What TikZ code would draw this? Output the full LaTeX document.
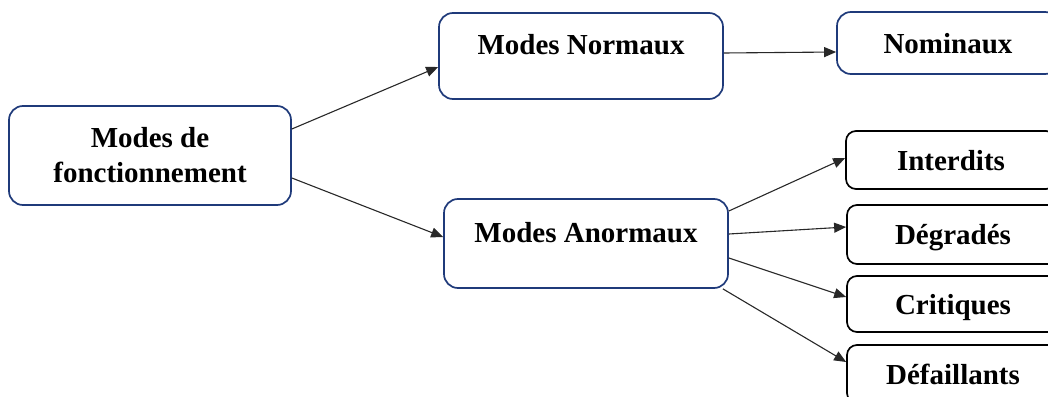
\documentclass[tikz,border=0pt]{standalone}
\usepackage{fontspec}
\setmainfont{Liberation Serif}
\usetikzlibrary{arrows.meta}
\definecolor{navy}{RGB}{31,58,122}
\definecolor{conn}{RGB}{40,40,40}
\tikzset{
  box/.style={draw, line width=1.7pt, rounded corners=14pt, inner sep=0pt,
    font=\fontsize{29}{35}\selectfont\bfseries, align=center},
  bluebox/.style={box, draw=navy},
  blackbox/.style={box, draw=black, rounded corners=10pt},
  upper/.style={text height=20pt, text depth=22pt},
  mid/.style={text height=20pt, text depth=0pt},
  conn/.style={draw=conn, line width=1.1pt, -{Triangle[length=12pt,width=10pt]}},
}
\begin{document}
\begin{tikzpicture}[x=1pt,y=-1pt]
\clip (0,0) rectangle (1048,396);
\node[bluebox, minimum width=282pt, minimum height=99pt] (A) at (150,155.5) {Modes de\\fonctionnement};
\node[bluebox, upper, minimum width=284pt, minimum height=86pt] (N) at (581,56) {Modes Normaux};
\node[bluebox, upper, minimum width=284pt, minimum height=89pt] (An) at (586,243.5) {Modes Anormaux};
\node[bluebox, mid, minimum width=222pt, minimum height=62pt] (Nom) at (948,43) {Nominaux};
\node[blackbox, mid, minimum width=210pt, minimum height=58pt] (I) at (951,160) {Interdits};
\node[blackbox, mid, minimum width=212pt, minimum height=59pt] (D) at (953,234.5) {Dégradés};
\node[blackbox, mid, minimum width=212pt, minimum height=56pt] (C) at (953,304) {Critiques};
\node[blackbox, mid, minimum width=212pt, minimum height=58pt] (F) at (953,374) {Défaillants};
\draw[conn] ([yshift=26.5pt]A.east) -- ([yshift=-11pt]N.west);
\draw[conn] ([yshift=-22.5pt]A.east) -- ([yshift=6.5pt]An.west);
\draw[conn] ([yshift=3pt]N.east) -- ([yshift=-9pt]Nom.west);
\draw[conn] ([yshift=32.5pt]An.east) -- ([yshift=2pt]I.west);
\draw[conn] ([yshift=9.5pt]An.east) -- ([yshift=7.5pt]D.west);
\draw[conn] ([yshift=-14.5pt]An.east) -- ([yshift=7pt]C.west);
\draw[conn] ([xshift=-6pt]An.south east) -- ([yshift=12pt]F.west);
\end{tikzpicture}
\end{document}
